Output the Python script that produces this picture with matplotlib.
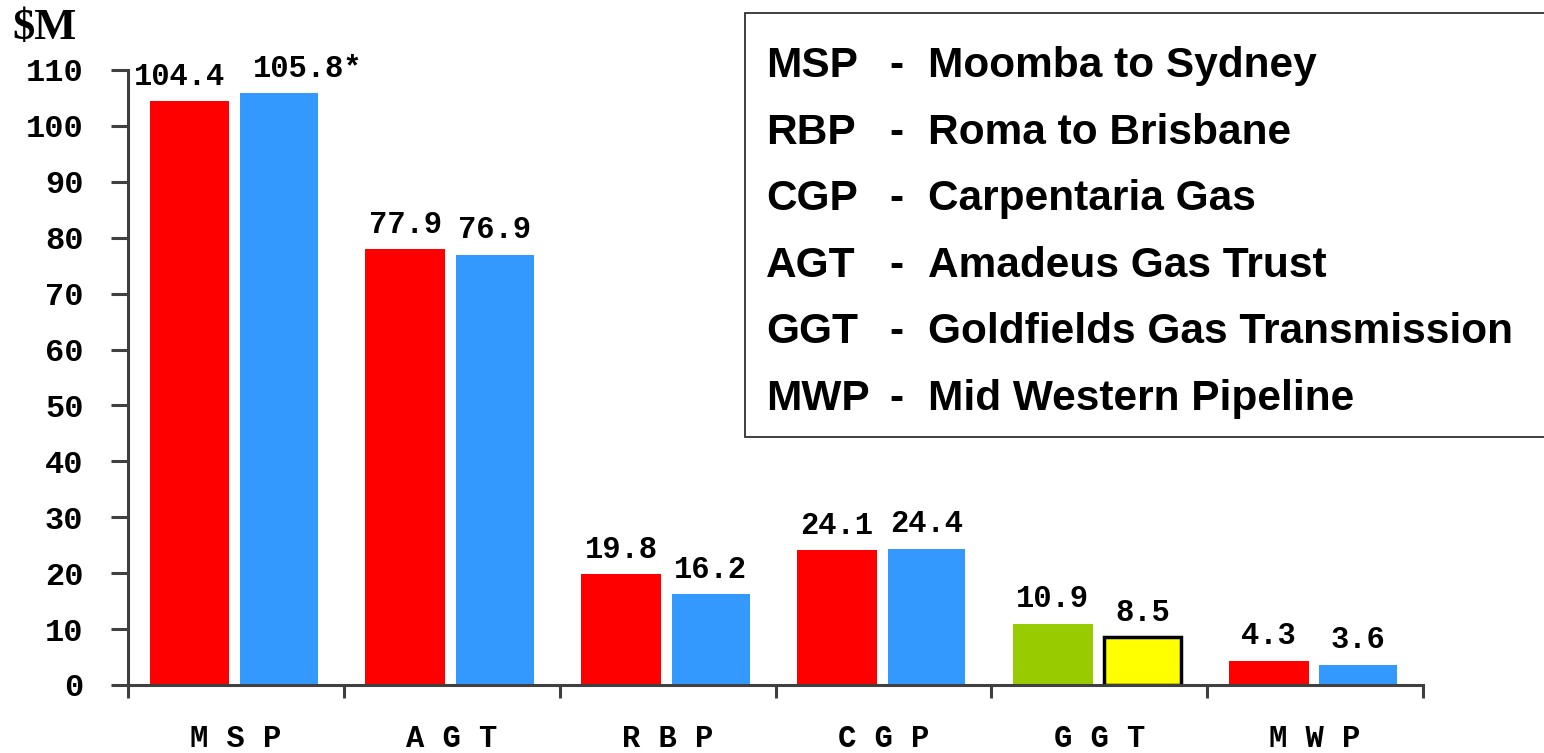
import numpy as np
import matplotlib
matplotlib.use("Agg")
import matplotlib.pyplot as plt
from matplotlib.patches import Rectangle

# Pipeline revenue, $M
groups = ["MSP", "AGT", "RBP", "CGP", "GGT", "MWP"]
group_labels = ["M S P", "A G T", "R B P", "C G P", "G G T", "M W P"]
first_vals = [104.4, 77.9, 19.8, 24.1, 10.9, 4.3]
second_vals = [105.8, 76.9, 16.2, 24.4, 8.5, 3.6]
first_text = ["104.4", "77.9", "19.8", "24.1", "10.9", "4.3"]
second_text = ["105.8*", "76.9", "16.2", "24.4", "8.5", "3.6"]
first_colors = ["#FF0000", "#FF0000", "#FF0000", "#FF0000", "#99CC00", "#FF0000"]
second_colors = ["#3399FF", "#3399FF", "#3399FF", "#3399FF", "#FFFF00", "#3399FF"]
second_edges = ["none", "none", "none", "none", "black", "none"]

legend_codes = ["MSP", "RBP", "CGP", "AGT", "GGT", "MWP"]
legend_names = ["Moomba to Sydney", "Roma to Brisbane", "Carpentaria Gas",
                "Amadeus Gas Trust", "Goldfields Gas Transmission", "Mid Western Pipeline"]

yticks = np.arange(0, 111, 10)

mono = "Liberation Mono"
axis_col = "#404040"
lab_kw = dict(fontsize=22, fontfamily=mono, fontweight="bold", va="bottom",
              annotation_clip=False, textcoords="offset points")

fig = plt.figure(figsize=(15.44, 7.53), dpi=100)
ax = fig.add_axes([128 / 1544, 1 - 685 / 753, (1423 - 128) / 1544, (685 - 70) / 753])

centers = np.arange(len(groups)) + 0.5
x1 = centers - 0.215
x2 = centers + 0.2

ax.bar(x1, first_vals, width=0.37, color=first_colors, zorder=2)
ax.bar(x2, second_vals, width=0.36, color=second_colors, edgecolor=second_edges,
       linewidth=2.5, zorder=2)

for i, (x, v, t) in enumerate(zip(x1, first_vals, first_text)):
    dx = -7 if i == 0 else 0   # tall MSP pair: nudge apart
    ax.annotate(t, (x, v), xytext=(dx, 7), ha="center", **lab_kw)
for x, v, t in zip(x2, second_vals, second_text):
    if t.endswith("*"):
        ax.annotate(t, (x - 0.18, v), xytext=(9, 7), ha="left", **lab_kw)
    else:
        ax.annotate(t, (x, v), xytext=(0, 7), ha="center", **lab_kw)

ax.set_xlim(0, len(groups))
ax.set_ylim(0, 110)

ax.set_xticks(np.arange(len(groups) + 1))
ax.set_xticklabels([])
ax.set_xticks(centers, minor=True)
ax.set_xticklabels(group_labels, minor=True, fontsize=22, fontfamily=mono, fontweight="bold")
ax.tick_params(axis="x", which="major", direction="out", length=9, width=2.2, color=axis_col)
ax.tick_params(axis="x", which="minor", length=0, pad=28)

ax.set_yticks(yticks)
ax.set_yticklabels([str(v) for v in yticks], fontsize=23, fontfamily=mono, fontweight="bold")
ax.tick_params(axis="y", direction="out", length=12, width=2.2, color=axis_col, pad=20)

for side in ["top", "right"]:
    ax.spines[side].set_visible(False)
for side in ["left", "bottom"]:
    ax.spines[side].set_color(axis_col)
    ax.spines[side].set_linewidth(2.2)

fig.text(12 / 1544, 1 - 28 / 753, "$M", fontsize=32, fontfamily="Liberation Serif",
         fontweight="bold", ha="left", va="center")

# legend box with pipeline names (runs off the right edge)
fig.patches.append(Rectangle((745 / 1544, 1 - 437 / 753), 1.0, (437 - 13) / 753,
                             transform=fig.transFigure, facecolor="white",
                             edgecolor="#303030", linewidth=1.3, zorder=3))
for i, (code, name) in enumerate(zip(legend_codes, legend_names)):
    y = 1 - (66 + i * 66.6) / 753
    kw = dict(fontsize=30.5, fontfamily="Liberation Sans", fontweight="bold", va="center", zorder=4)
    fig.text(766 / 1544, y, code, ha="left", **kw)
    fig.text(889 / 1544, y, "-", ha="left", **kw)
    fig.text(928 / 1544, y, name, ha="left", **kw)

fig.savefig("out.png", dpi=100)
